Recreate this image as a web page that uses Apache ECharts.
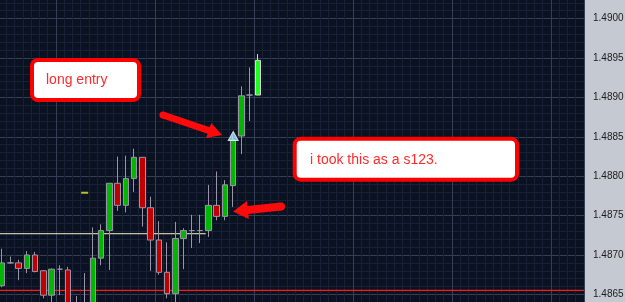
<!DOCTYPE html>
<html>
<head>
<meta charset="utf-8">
<script src="https://cdn.jsdelivr.net/npm/echarts@6/dist/echarts.min.js"></script>
<style>
html,body{margin:0;padding:0;background:#c4c9d2;}
#c{width:625px;height:302px;}
</style>
</head>
<body>
<div id="c"></div>
<script>
// ---- data ----
var slotCount = 71; // visible bar slots across the plot
var opens  = [1.48661,1.48690,1.48690,1.48683,1.48700,1.48680,1.48649,1.48682,1.48681,1.48637,1.48620,1.48628,1.48696,1.48731,1.48791,1.48763,1.48797,1.48824,1.48760,1.48719,1.48678,1.48651,1.48721,1.48731,1.48731,1.48731,1.48763,1.48749,1.48788,1.48851,1.48903,1.48903];
var closes = [1.48690,1.48690,1.48683,1.48700,1.48679,1.48649,1.48682,1.48682,1.48630,1.48624,1.48637,1.48696,1.48731,1.48791,1.48763,1.48797,1.48824,1.48760,1.48719,1.48678,1.48651,1.48721,1.48731,1.48731,1.48731,1.48763,1.48749,1.48789,1.48846,1.48902,1.48903,1.48947];
var lows   = [1.48659,1.48689,1.48668,1.48677,1.48678,1.48645,1.48633,1.48649,1.48620,1.48618,1.48615,1.48623,1.48687,1.48681,1.48756,1.48754,1.48780,1.48736,1.48680,1.48675,1.48645,1.48637,1.48682,1.48709,1.48715,1.48723,1.48744,1.48744,1.48761,1.48828,1.48870,1.48903];
var highs  = [1.48708,1.48698,1.48694,1.48705,1.48704,1.48681,1.48683,1.48687,1.48685,1.48648,1.48677,1.48735,1.48739,1.48791,1.48825,1.48826,1.48835,1.48824,1.48774,1.48743,1.48716,1.48742,1.48734,1.48751,1.48751,1.48789,1.48806,1.48795,1.48852,1.48914,1.48938,1.48955];
var supportLevel = 1.48727;   // pale horizontal line
var supportSpan = [0, 0.3545]; // fraction of plot width covered by the pale line
var redLevel = 1.48655;       // red horizontal line
var redSpan = [0, 1];
var entryIndex = 28, entryPrice = 1.48851;   // triangle marker
var dashIndex = 10, dashPrice = 1.48779;     // small yellow dash
var note1 = 'long entry';
var note2 = 'i took this as a s123.';

var categories = [];
for (var i = 0; i < slotCount; i++) categories.push('b' + i);

var candleData = opens.map(function (o, i) {
  var item = { value: [o, closes[i], lows[i], highs[i]] };
  if (i === opens.length - 1) {
    item.itemStyle = { color: '#1cff1c', borderColor: '#d8d8d8' };
  }
  return item;
});

var chart = echarts.init(document.getElementById('c'), null, { renderer: 'canvas' });

var majorCol = '#343f57', minorCol = '#172036';

function arrow(pts) {
  return { type: 'polygon', shape: { points: pts }, style: { fill: '#ff0a0a' }, z: 100 };
}

chart.setOption({
  animation: false,
  backgroundColor: '#c4c9d2',
  grid: { left: -2, right: 41, top: -20.8, bottom: -31.8, show: true, backgroundColor: '#0a1121', borderWidth: 0,
          containLabel: false, outerBoundsMode: 'none' },
  xAxis: [
    { type: 'category', data: categories, boundaryGap: true, z: 1,
      axisLine: { show: false }, axisTick: { show: false }, axisLabel: { show: false },
      splitLine: { show: true, interval: 0, lineStyle: { color: minorCol, width: 1 } } },
    { type: 'category', data: categories, boundaryGap: true, z: 2,
      axisLine: { show: false }, axisTick: { show: false }, axisLabel: { show: false },
      splitLine: { show: true, interval: function (idx) { return idx % 12 === 7; }, lineStyle: { color: majorCol, width: 1 } } },
    { type: 'value', min: 0, max: 1, show: false, splitLine: { show: false } }
  ],
  yAxis: {
    type: 'value', position: 'right', min: 1.4860, max: 1.4905, interval: 0.0005, scale: true,
    axisLine: { show: false }, axisTick: { show: false },
    axisLabel: { color: '#1c1c1c', fontSize: 10, fontFamily: 'Liberation Sans', margin: 9,
      formatter: function (v) { return v.toFixed(4); } },
    splitLine: { show: true, lineStyle: { color: majorCol, width: 1 } },
    minorTick: { show: false, splitNumber: 5 },
    minorSplitLine: { show: true, lineStyle: { color: minorCol, width: 1 } }
  },
  series: [
    {
      type: 'line', xAxisIndex: 2, symbol: 'none', silent: true, z: 3,
      data: [[supportSpan[0], supportLevel], [supportSpan[1], supportLevel]],
      lineStyle: { color: '#f4f4c8', width: 1, opacity: 1 }
    },
    {
      type: 'line', xAxisIndex: 2, symbol: 'none', silent: true, z: 3,
      data: [[redSpan[0], redLevel], [redSpan[1], redLevel]],
      lineStyle: { color: '#ff1a1a', width: 1.2, opacity: 1 }
    },
    {
      type: 'candlestick', xAxisIndex: 1, data: candleData, barWidth: 6, z: 4,
      itemStyle: { color: '#00b800', color0: '#c00000', borderColor: '#9a94a6', borderColor0: '#9a94a6', borderWidth: 1 }
    },
    {
      type: 'scatter', xAxisIndex: 1, symbol: 'triangle', symbolSize: [10, 9],
      data: [[entryIndex, entryPrice]],
      itemStyle: { color: '#a8e6ff', borderColor: '#e8f8ff', borderWidth: 1 }, z: 5
    },
    {
      type: 'scatter', xAxisIndex: 1, symbol: 'rect', symbolSize: [7, 2],
      data: [[dashIndex, dashPrice]],
      itemStyle: { color: '#e8e820' }, z: 5
    }
  ],
  graphic: [
    { type: 'rect', shape: { x: 32, y: 60, width: 107, height: 40, r: 6 },
      style: { fill: '#ffffff', stroke: '#ff0000', lineWidth: 4 }, z: 100 },
    { type: 'text', x: 46, y: 80, style: { text: note1, fill: '#ff2a2a', font: '14px "Liberation Sans"', textVerticalAlign: 'middle' }, z: 101 },
    { type: 'rect', shape: { x: 294.7, y: 138.7, width: 222.3, height: 41, r: 6 },
      style: { fill: '#ffffff', stroke: '#ff0000', lineWidth: 4 }, z: 100 },
    { type: 'text', x: 310, y: 160, style: { text: note2, fill: '#ff2a2a', font: '14px "Liberation Sans"', textVerticalAlign: 'middle' }, z: 101 },
    arrow([[161.9,118.3],[207.6,133.8],[206.1,138.1],[222,135],[211.3,122.9],[209.8,127.2],[164.1,111.7]]),
    { type: 'circle', shape: { cx: 163, cy: 115, r: 3.6 }, style: { fill: '#ff0a0a' }, z: 100 },
    arrow([[280.6,202.5],[247.5,206.0],[247.0,201.0],[233,211.5],[248.8,218.9],[248.3,213.9],[281.4,210.5]]),
    { type: 'circle', shape: { cx: 281, cy: 206.5, r: 4 }, style: { fill: '#ff0a0a' }, z: 100 }
  ]
});
</script>
</body>
</html>
